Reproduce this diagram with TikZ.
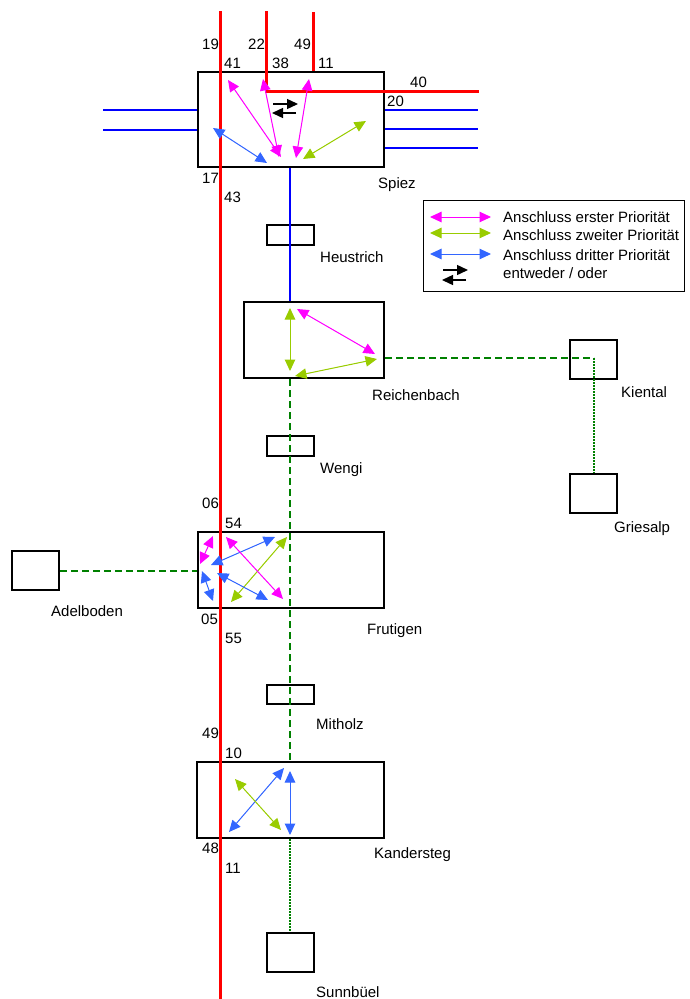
\documentclass[tikz,border=0pt]{standalone}
\usepackage{fontspec}
\setmainfont{Liberation Sans}
\usetikzlibrary{arrows.meta}
\definecolor{cmag}{RGB}{255,0,255}
\definecolor{cgrn}{RGB}{153,204,0}
\definecolor{cblu}{RGB}{51,102,255}
\definecolor{lred}{RGB}{255,0,0}
\definecolor{lblu}{RGB}{0,0,255}
\definecolor{lgrn}{RGB}{0,128,0}
\begin{document}
\begin{tikzpicture}[x=1pt,y=-1pt,
  font=\fontsize{15}{18}\selectfont,
  stationbox/.style={draw=black,line width=2pt,inner sep=0pt,minimum width=#1},
  lbl/.style={anchor=base west,inner sep=0pt},
  redline/.style={draw=lred,line width=3pt},
  blueline/.style={draw=lblu,line width=1.6pt},
  gdash/.style={draw=lgrn,line width=2pt,dash pattern=on 7pt off 4pt},
  gdot/.style={draw=lgrn,line width=2pt,dash pattern=on 1.5pt off 1.5pt},
  conn/.style={line width=1pt,{Triangle[length=11.5pt,width=10.5pt]}-{Triangle[length=11.5pt,width=10.5pt]}},
  pri1/.style={conn,draw=cmag,fill=cmag},
  pri2/.style={conn,draw=cgrn,fill=cgrn},
  pri3/.style={conn,draw=cblu,fill=cblu},
  eoarrow/.style={draw=black,line width=1.4pt,-{Triangle[length=11pt,width=10pt]}}
]
\useasboundingbox (0,0) rectangle (689,999);

% ---------- boxes ----------
\node[stationbox=186pt,minimum height=95pt] (spiez) at (291,119.5) {};
\node[stationbox=47pt,minimum height=20pt] (heustrich) at (290.5,235) {};
\node[stationbox=140pt,minimum height=76pt] (reichenbach) at (314,340) {};
\node[stationbox=47pt,minimum height=39pt] (kiental) at (593.5,359.5) {};
\node[stationbox=47pt,minimum height=20pt] (wengi) at (290.5,446) {};
\node[stationbox=47pt,minimum height=39pt] (griesalp) at (593.5,493.5) {};
\node[stationbox=186pt,minimum height=76pt] (frutigen) at (291,570) {};
\node[stationbox=47pt,minimum height=39pt] (adelboden) at (35.5,570.5) {};
\node[stationbox=47pt,minimum height=19pt] (mitholz) at (290.5,694.5) {};
\node[stationbox=187pt,minimum height=76pt] (kandersteg) at (290.5,800) {};
\node[stationbox=47pt,minimum height=39pt] (sunnbuel) at (290.5,952.5) {};

% ---------- free coordinates ----------
\coordinate (col) at (290,0);
\coordinate (r1top) at (220,11);
\coordinate (r1bot) at (220,999);
\coordinate (r2top) at (266,11);
\coordinate (r2corner) at (266,91);
\coordinate (r2end) at (479,91);
\coordinate (r3top) at (313,12);
\coordinate (bl1) at (103,110);
\coordinate (bl2) at (103,130);
\coordinate (br1) at (478,110);
\coordinate (br2) at (478,129);
\coordinate (br3) at (478,148);
\coordinate (kt) at (594,358);

% ---------- network lines ----------
\draw[blueline] (bl1) -- (spiez.west |- bl1);
\draw[blueline] (bl2) -- (spiez.west |- bl2);
\draw[blueline] (spiez.east |- br1) -- (br1);
\draw[blueline] (spiez.east |- br2) -- (br2);
\draw[blueline] (spiez.east |- br3) -- (br3);
\draw[blueline] (spiez.south -| col) -- (reichenbach.north -| col);
\draw[gdash] (reichenbach.south -| col) -- (kandersteg.north -| col);
\draw[gdash] (reichenbach.east |- kt) -- (kt);
\draw[gdot] (kt) -- (griesalp.north -| kt);
\draw[gdash] (adelboden.east) -- (frutigen.west |- adelboden.east);
\draw[gdot] (kandersteg.south -| col) -- (sunnbuel.north -| col);
\draw[redline] (r1top) -- (r1bot);
\draw[redline] (r2top) -- (r2corner) -- (r2end);
\draw[redline] (r3top) -- (spiez.north -| r3top);

% ---------- Spiez connections ----------
\coordinate (sa1) at (228,80);  \coordinate (sb1) at (281,157);
\coordinate (sa2) at (263,79);  \coordinate (sb2) at (279,157);
\coordinate (sa3) at (309,79);  \coordinate (sb3) at (296,158);
\coordinate (sa4) at (366,121); \coordinate (sb4) at (303,159);
\coordinate (sa5) at (213,128); \coordinate (sb5) at (267,163);
\draw[pri1] (sa1) -- (sb1);
\draw[pri1] (sa2) -- (sb2);
\draw[pri1] (sa3) -- (sb3);
\draw[pri2] (sa4) -- (sb4);
\draw[pri3] (sa5) -- (sb5);
\coordinate (se1) at (273,104); \coordinate (se2) at (298,104);
\coordinate (se3) at (296,113); \coordinate (se4) at (272,113);
\draw[eoarrow] (se1) -- (se2);
\draw[eoarrow] (se3) -- (se4);

% ---------- Reichenbach connections ----------
\coordinate (ra1) at (290,308); \coordinate (rb1) at (290,371);
\coordinate (ra2) at (297,309); \coordinate (rb2) at (375,354);
\coordinate (ra3) at (377,359); \coordinate (rb3) at (295,376);
\draw[pri2] (ra1) -- (rb1);
\draw[pri1] (ra2) -- (rb2);
\draw[pri2] (ra3) -- (rb3);

% ---------- Frutigen connections ----------
\coordinate (fa1) at (213,536); \coordinate (fb1) at (200,564);
\coordinate (fa2) at (275,537); \coordinate (fb2) at (211,565);
\coordinate (fa3) at (287,537); \coordinate (fb3) at (231,602);
\coordinate (fa4) at (226,537); \coordinate (fb4) at (283,599);
\coordinate (fa5) at (202,571); \coordinate (fb5) at (213,601);
\coordinate (fa6) at (217,573); \coordinate (fb6) at (268,600);
\draw[pri1] (fa1) -- (fb1);
\draw[pri3] (fa2) -- (fb2);
\draw[pri2] (fa3) -- (fb3);
\draw[pri1] (fa4) -- (fb4);
\draw[pri3] (fa5) -- (fb5);
\draw[pri3] (fa6) -- (fb6);

% ---------- Kandersteg connections ----------
\coordinate (ka1) at (284,768); \coordinate (kb1) at (229,832);
\coordinate (ka2) at (235,779); \coordinate (kb2) at (281,830);
\coordinate (ka3) at (290,771); \coordinate (kb3) at (290,835);
\draw[pri3] (ka1) -- (kb1);
\draw[pri2] (ka2) -- (kb2);
\draw[pri3] (ka3) -- (kb3);

% ---------- labels ----------
\node[lbl] (t19a) at (202,49) {19};
\node[lbl] (t41) at (224,68) {41};
\node[lbl] (t22) at (248,49) {22};
\node[lbl] (t38) at (272,68) {38};
\node[lbl] (t49a) at (294,49) {49};
\node[lbl] (t11a) at (318,68) {11};
\node[lbl] (t40) at (410,87) {40};
\node[lbl] (t20) at (387,106) {20};
\node[lbl] (t17) at (202,183) {17};
\node[lbl] (t43) at (224,202) {43};
\node[lbl] (nspiez) at (378,188) {Spiez};
\node[lbl] (nheus) at (320,262) {Heustrich};
\node[lbl] (nreich) at (372,400) {Reichenbach};
\node[lbl] (nkien) at (621,397) {Kiental};
\node[lbl] (nweng) at (320,473) {Wengi};
\node[lbl] (ngries) at (614,532) {Griesalp};
\node[lbl] (t06) at (202,508) {06};
\node[lbl] (t54) at (225,528) {54};
\node[lbl] (nadel) at (51,616) {Adelboden};
\node[lbl] (t05) at (201,624) {05};
\node[lbl] (t55) at (225,643) {55};
\node[lbl] (nfrut) at (367,634) {Frutigen};
\node[lbl] (nmith) at (316,729) {Mitholz};
\node[lbl] (t49b) at (202,738) {49};
\node[lbl] (t10) at (225,758) {10};
\node[lbl] (t48) at (202,853) {48};
\node[lbl] (t11b) at (225,873) {11};
\node[lbl] (nkand) at (374,858) {Kandersteg};
\node[lbl] (nsunn) at (316,997) {Sunnbüel};

% ---------- legend ----------
\node[draw=black,line width=1pt,inner sep=0pt,minimum width=261pt,minimum height=91pt] (legend) at (553.5,245.5) {};
\coordinate (la1) at (430,217); \coordinate (lb1) at (491,217);
\coordinate (la2) at (430,233); \coordinate (lb2) at (491,233);
\coordinate (la3) at (430,254); \coordinate (lb3) at (491,254);
\draw[pri1] (la1) -- (lb1);
\draw[pri2] (la2) -- (lb2);
\draw[pri3] (la3) -- (lb3);
\coordinate (le1) at (443,270); \coordinate (le2) at (468,270);
\coordinate (le3) at (466,280); \coordinate (le4) at (442,280);
\draw[eoarrow] (le1) -- (le2);
\draw[eoarrow] (le3) -- (le4);
\node[lbl] (lt1) at (503,222) {Anschluss erster Priorität};
\node[lbl] (lt2) at (503,240) {Anschluss zweiter Priorität};
\node[lbl] (lt3) at (503,260) {Anschluss dritter Priorität};
\node[lbl] (lt4) at (503,278) {entweder / oder};
\end{tikzpicture}
\end{document}
